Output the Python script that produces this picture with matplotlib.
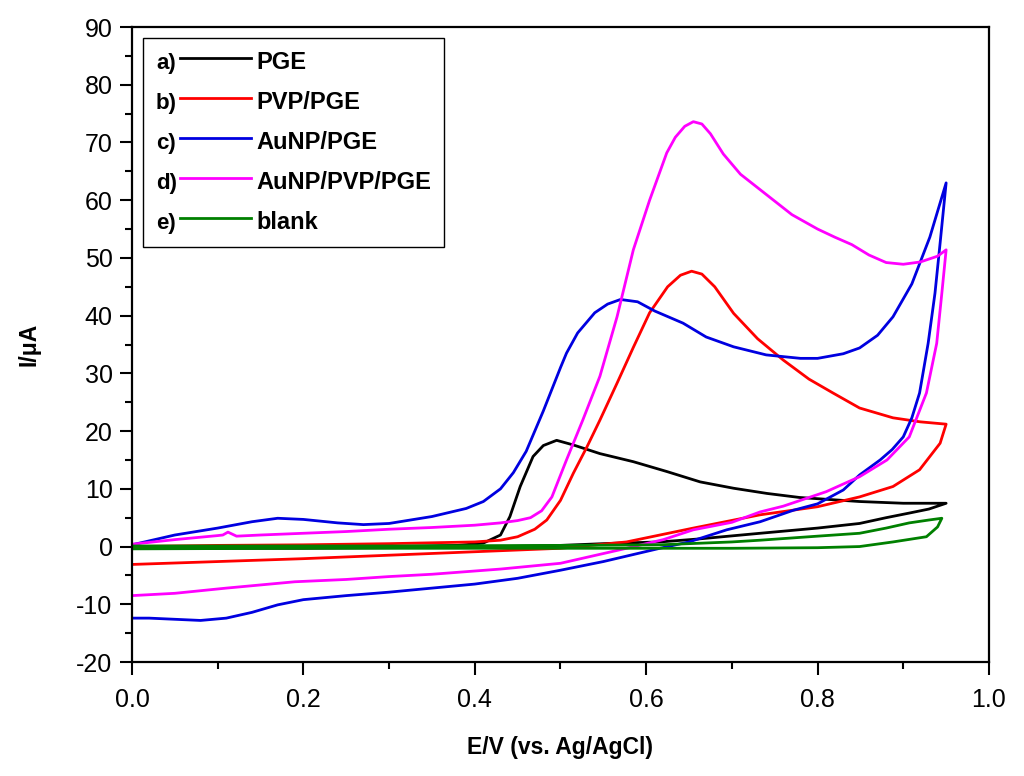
import numpy as np
import matplotlib
matplotlib.use("Agg")
import matplotlib.pyplot as plt
from matplotlib.legend_handler import HandlerLine2D
from matplotlib.lines import Line2D
from matplotlib.text import Text
from matplotlib.ticker import MultipleLocator

plt.rcParams['font.family'] = ['Liberation Sans', 'DejaVu Sans']
plt.rcParams['axes.unicode_minus'] = False

# cyclic voltammograms: forward scan 0 -> 0.95 V, then reverse back to 0 V
# a) PGE
E_pge = [0.0, 0.1, 0.2, 0.3, 0.38, 0.41, 0.43, 0.441, 0.453, 0.468, 0.48, 0.4955,
         0.515, 0.546, 0.585, 0.624, 0.663, 0.702, 0.741, 0.779, 0.849, 0.9, 0.95,
         0.93, 0.907, 0.88, 0.849, 0.8, 0.733, 0.66, 0.616, 0.558, 0.5, 0.4, 0.3, 0.2, 0.1, 0.0]
I_pge = [-0.3, -0.2, -0.1, 0.0, 0.2, 0.6, 2.0, 5.2, 10.4, 15.6, 17.5, 18.4,
         17.6, 16.1, 14.7, 13.0, 11.2, 10.1, 9.2, 8.5, 7.8, 7.5, 7.5,
         6.5, 5.8, 5.0, 4.0, 3.2, 2.3, 1.3, 0.8, 0.55, 0.2, -0.1, -0.2, -0.3, -0.3, -0.3]

# b) PVP/PGE
E_pvp = [0.0, 0.1, 0.2, 0.3, 0.4, 0.43, 0.45, 0.47, 0.484, 0.5, 0.515, 0.531, 0.546, 0.566,
         0.585, 0.604, 0.625, 0.64, 0.653, 0.665, 0.68, 0.702, 0.73, 0.76, 0.79, 0.818,
         0.849, 0.888, 0.92, 0.95,
         0.943, 0.919, 0.888, 0.849, 0.8, 0.733, 0.655, 0.577, 0.5, 0.45, 0.4, 0.3, 0.2, 0.1, 0.0]
I_pvp = [0.0, 0.2, 0.3, 0.5, 0.8, 1.1, 1.7, 3.0, 4.6, 8.0, 12.7, 17.3, 21.9, 28.3,
         34.5, 40.5, 45.0, 47.0, 47.7, 47.2, 45.0, 40.4, 36.0, 32.3, 29.0, 26.6,
         24.0, 22.3, 21.6, 21.2,
         17.9, 13.3, 10.4, 8.6, 6.9, 5.5, 3.2, 0.8, -0.3, -0.6, -0.9, -1.5, -2.1, -2.6, -3.1]

# c) AuNP/PGE
E_au = [0.0, 0.05, 0.1, 0.14, 0.17, 0.2, 0.24, 0.27, 0.3, 0.35, 0.39, 0.41, 0.43, 0.445, 0.46,
        0.48, 0.5, 0.507, 0.52, 0.54, 0.555, 0.57, 0.59, 0.61, 0.643, 0.67, 0.702, 0.74,
        0.78, 0.8, 0.83, 0.849, 0.87, 0.888, 0.91, 0.931, 0.95,
        0.943, 0.937, 0.929, 0.919, 0.91, 0.9, 0.887, 0.873, 0.849, 0.83, 0.8, 0.772,
        0.733, 0.694, 0.65, 0.616, 0.55, 0.5, 0.45, 0.4, 0.35, 0.3, 0.25, 0.2, 0.17,
        0.14, 0.11, 0.08, 0.05, 0.02, 0.0]
I_au = [0.3, 2.0, 3.2, 4.3, 4.9, 4.7, 4.1, 3.8, 4.0, 5.2, 6.6, 7.8, 10.0, 12.8, 16.5,
        23.5, 31.0, 33.5, 37.0, 40.5, 42.0, 42.8, 42.4, 40.8, 38.7, 36.3, 34.6, 33.2,
        32.6, 32.6, 33.4, 34.4, 36.6, 39.8, 45.5, 53.6, 63.0,
        52.6, 43.9, 35.2, 26.6, 22.3, 19.0, 16.8, 15.0, 12.4, 9.8, 7.4, 6.3,
        4.3, 2.9, 0.8, -0.3, -2.6, -4.1, -5.5, -6.5, -7.2, -7.9, -8.5, -9.2, -10.1,
        -11.4, -12.4, -12.8, -12.6, -12.4, -12.4]

# d) AuNP/PVP/PGE
E_aupvp = [0.0, 0.05, 0.1, 0.106, 0.112, 0.122, 0.15, 0.2, 0.25, 0.3, 0.35, 0.4, 0.43,
           0.45, 0.465, 0.478, 0.49, 0.507, 0.526, 0.546, 0.566, 0.585, 0.604, 0.624, 0.634,
           0.645, 0.655, 0.665, 0.675, 0.69, 0.71, 0.74, 0.77, 0.8, 0.82, 0.84, 0.86, 0.88, 0.9,
           0.92, 0.94, 0.95,
           0.945, 0.939, 0.927, 0.907, 0.881, 0.849, 0.81, 0.76, 0.733, 0.7, 0.655,
           0.62, 0.577, 0.5, 0.43, 0.35, 0.3, 0.25, 0.19, 0.11, 0.05, 0.0]
I_aupvp = [0.4, 1.2, 1.9, 2.0, 2.5, 1.8, 2.0, 2.3, 2.6, 3.0, 3.3, 3.7, 4.1,
           4.5, 5.0, 6.2, 8.6, 15.0, 21.9, 29.5, 39.8, 51.4, 60.0, 68.2, 70.9,
           72.8, 73.6, 73.2, 71.5, 68.0, 64.5, 61.0, 57.5, 55.0, 53.6, 52.3, 50.5, 49.2, 48.9,
           49.3, 50.3, 51.4,
           43.9, 35.2, 26.6, 19.0, 15.0, 12.1, 9.5, 7.0, 6.0, 4.2, 2.9,
           1.2, -0.3, -2.9, -3.9, -4.8, -5.2, -5.7, -6.1, -7.2, -8.1, -8.5]

# e) blank
E_blank = [0.0, 0.1, 0.2, 0.3, 0.4, 0.5, 0.616, 0.7, 0.733, 0.8, 0.849, 0.88, 0.907,
           0.93, 0.945,
           0.94, 0.927, 0.888, 0.849, 0.8, 0.7, 0.6, 0.4, 0.2, 0.0]
I_blank = [0.1, 0.1, 0.1, 0.1, 0.15, 0.2, 0.3, 0.8, 1.1, 1.8, 2.3, 3.2, 4.1,
           4.6, 4.9,
           3.4, 1.7, 0.8, 0.0, -0.2, -0.3, -0.3, -0.3, -0.3, -0.4]

letters = ['a)', 'b)', 'c)', 'd)', 'e)']
labels = ['PGE', 'PVP/PGE', 'AuNP/PGE', 'AuNP/PVP/PGE', 'blank']
colors = ['#000000', '#ff0000', '#0000e0', '#ff00ff', '#008000']
curves = [(E_pge, I_pge), (E_pvp, I_pvp), (E_au, I_au), (E_aupvp, I_aupvp), (E_blank, I_blank)]


class PrefixHandler(HandlerLine2D):
    # legend handle drawn as "a)" followed by the line sample
    def __init__(self, prefix, **kw):
        super().__init__(**kw)
        self.prefix = prefix

    def create_artists(self, legend, orig_handle, xdescent, ydescent, width, height,
                       fontsize, trans):
        x0 = -xdescent
        txt = Text(x0, -ydescent, self.prefix, fontsize=fontsize * 0.95, fontweight='bold',
                   ha='left', va='baseline', transform=trans)
        yl = 0.45 * fontsize - ydescent
        ln = Line2D([x0 + 0.25 * width, x0 + width], [yl, yl], color=orig_handle.get_color(),
                    lw=orig_handle.get_linewidth(), transform=trans)
        return [txt, ln]


fig = plt.figure(figsize=(10.24, 7.76), dpi=100)
ax = fig.add_axes([0.1289, 0.1469, 0.8369, 0.8183])

lines = []
for (e, i), c, lab in zip(curves, colors, labels):
    l, = ax.plot(e, i, color=c, lw=2.0, label=lab)
    lines.append(l)

ax.set_xlim(0, 1.0)
ax.set_ylim(-20, 90)
ax.xaxis.set_major_locator(MultipleLocator(0.2))
ax.xaxis.set_minor_locator(MultipleLocator(0.1))
ax.yaxis.set_major_locator(MultipleLocator(10))
ax.yaxis.set_minor_locator(MultipleLocator(5))
ax.xaxis.set_major_formatter(plt.FuncFormatter(lambda v, p: f"{v:.1f}"))

ax.tick_params(which='major', direction='out', length=9, width=1.5, labelsize=18)
ax.tick_params(axis='x', which='major', pad=10)
ax.tick_params(axis='y', which='major', pad=5)
ax.tick_params(which='minor', direction='out', length=5, width=1.5)
ax.tick_params(top=False, right=False, which='both')
for s in ax.spines.values():
    s.set_linewidth(1.6)

ax.set_xlabel('E/V (vs. Ag/AgCl)', fontsize=16.5, fontweight='bold', labelpad=17)
ax.set_ylabel('I/\u03bcA', fontsize=16.5, fontweight='bold', labelpad=26)

handler_map = {l: PrefixHandler(p) for l, p in zip(lines, letters)}
leg = ax.legend(handles=lines, labels=labels, handler_map=handler_map,
                loc='upper left', bbox_to_anchor=(0.0128, 0.9827), borderaxespad=0,
                fancybox=False, edgecolor='black', framealpha=1,
                prop={'weight': 'bold', 'size': 17},
                handlelength=4.03, handletextpad=0.21, labelspacing=0.72,
                borderpad=0.55)
leg.get_frame().set_linewidth(1.0)

fig.savefig('out.png', dpi=100)
